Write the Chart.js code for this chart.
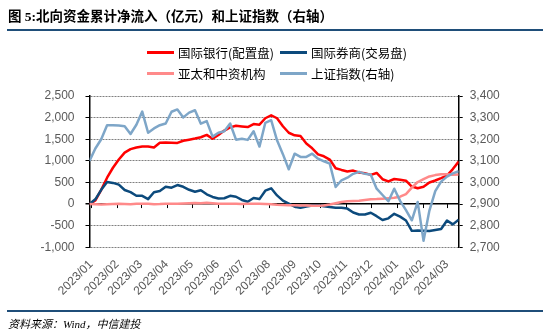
<!DOCTYPE html>
<html>
<head>
<meta charset="utf-8">
<script src="https://cdn.jsdelivr.net/npm/chart.js@4/dist/chart.umd.min.js"></script>
<style>
  html, body { margin: 0; padding: 0; background: #fff; }
  #wrap { position: relative; width: 550px; height: 335px; overflow: hidden; }
  #title {
    position: absolute; left: 8px; top: 5px;
    font: bold 13.5px "Liberation Serif", "Noto Sans CJK SC", serif; color: #000;
    white-space: nowrap;
  }
  .rule { position: absolute; left: 7px; width: 536px; height: 2px; background: #1f4e79; }
  #legend {
    position: absolute; left: 147px; top: 44px;
    display: grid; grid-template-columns: 133px auto; row-gap: 5px;
    font: 12.5px "Noto Sans CJK SC", sans-serif; color: #000;
  }
  #legend .item { display: flex; align-items: center; height: 16px; white-space: nowrap; }
  #legend .swatch { width: 27px; height: 3px; margin-right: 4px; }
  #source {
    position: absolute; left: 8px; top: 315px;
    font: italic 11px "Liberation Serif", "Noto Sans CJK SC", serif; color: #000;
  }
  canvas { position: absolute; left: 0; top: 0; }
</style>
</head>
<body>
<div id="wrap">
  <canvas id="chart" width="550" height="335"></canvas>
  <div id="title">图 5:北向资金累计净流入（亿元）和上证指数（右轴）</div>
  <div class="rule" style="top:29px"></div>
  <div id="legend"></div>
  <div class="rule" style="top:310px"></div>
  <div id="source">资料来源：Wind，中信建投</div>
</div>
<script>
// weekly observation dates (Fridays)
const weeks = [
  '2022-12-30',
  '2023-01-06', '2023-01-13', '2023-01-20', '2023-01-27',
  '2023-02-03', '2023-02-10', '2023-02-17', '2023-02-24',
  '2023-03-03', '2023-03-10', '2023-03-17', '2023-03-24', '2023-03-31',
  '2023-04-07', '2023-04-14', '2023-04-21', '2023-04-28',
  '2023-05-05', '2023-05-12', '2023-05-19', '2023-05-26',
  '2023-06-02', '2023-06-09', '2023-06-16', '2023-06-23', '2023-06-30',
  '2023-07-07', '2023-07-14', '2023-07-21', '2023-07-28',
  '2023-08-04', '2023-08-11', '2023-08-18', '2023-08-25',
  '2023-09-01', '2023-09-08', '2023-09-15', '2023-09-22', '2023-09-29',
  '2023-10-06', '2023-10-13', '2023-10-20', '2023-10-27',
  '2023-11-03', '2023-11-10', '2023-11-17', '2023-11-24',
  '2023-12-01', '2023-12-08', '2023-12-15', '2023-12-22', '2023-12-29',
  '2024-01-05', '2024-01-12', '2024-01-19', '2024-01-26',
  '2024-02-02', '2024-02-09', '2024-02-16', '2024-02-23',
  '2024-03-01', '2024-03-08', '2024-03-15'
];

const monthLabels = ['2023/01', '2023/02', '2023/03', '2023/04', '2023/05', '2023/06', '2023/07',
  '2023/08', '2023/09', '2023/10', '2023/11', '2023/12', '2024/01', '2024/02', '2024/03'];

const seriesNames = ['国际银行(配置盘)', '国际券商(交易盘)', '亚太和中资机构', '上证指数(右轴)'];

// cumulative net inflow, 100m CNY
const intlBanks = [
  0, 85, 330, 610, 840, 1030, 1190, 1270, 1310, 1333,
  1333, 1310, 1420, 1426, 1420, 1415, 1465, 1490, 1515, 1545,
  1600, 1510, 1600, 1700, 1774, 1812, 1795, 1781, 1850, 1837,
  1985, 2055, 1985, 1800, 1650, 1590, 1575, 1400, 1290, 1150,
  1105, 1030, 830, 790, 755, 774, 730, 715, 675, 720,
  575, 525, 580, 565, 540, 405, 365, 400, 500, 545,
  600, 660, 810, 985
];
const intlBrokers = [
  0, 110, 330, 510, 490, 450, 325, 275, 193, 190,
  115, 275, 300, 400, 380, 440, 400, 330, 285, 320,
  225, 165, 130, 135, 190, 170, 95, 55, 140, 115,
  310, 365, 200, 80, 10, -60, -85, -55, -35, -25,
  -50, -70, -86, -86, -105, -195, -240, -242, -200, -280,
  -370, -330, -225, -290, -380, -620, -610, -615, -625, -600,
  -575, -380, -470, -360
];
const apacChinese = [
  0, -5, -10, -5, 0, 5, 0, -5, 5, 10,
  5, -5, 0, 10, 5, 10, 15, 20, 25, 20,
  30, 20, 10, 5, 10, 5, 0, 5, 10, 5,
  0, -5, -15, -20, -25, -30, -35, -35, -40, -40,
  -35, -10, 20, 50, 65, 70, 75, 95, 110, 115,
  125, 135, 145, 170, 230, 380, 510, 575, 640, 670,
  690, 690, 680, 685
];
// Shanghai Composite, weekly close
const sseIndex = [
  3100, 3157, 3200, 3265, 3265, 3263, 3260, 3224, 3267, 3328,
  3230, 3250, 3265, 3273, 3327, 3338, 3301, 3323, 3334, 3272,
  3284, 3212, 3230, 3237, 3273, 3198, 3202, 3197, 3237, 3166,
  3276, 3288, 3195, 3131, 3061, 3133, 3118, 3118, 3133, 3110,
  3098, 3087, 2979, 3010, 3022, 3040, 3049, 3040, 3036, 2971,
  2942, 2913, 2971, 2915, 2872, 2825, 2910, 2730, 2870, 2960,
  3004, 3027, 3042, 3052
];

const leftTicks = { min: -1000, max: 2500, step: 500 };
const rightTicks = { min: 2700, max: 3400, step: 100 };

// x values are days since 2023-01-01
const DAY = 86400000;
const origin = Date.UTC(2023, 0, 1);
function dayOf(str) {
  const p = str.split(/[-\/]/).map(Number);
  return Math.round((Date.UTC(p[0], p[1] - 1, p[2] || 1) - origin) / DAY);
}
const xs = weeks.map(dayOf);
const monthDays = monthLabels.map(dayOf);

function points(values) {
  return values.map((v, i) => ({ x: xs[i], y: v }));
}

const colors = ['#ff0000', '#0c4a7c', '#ff8a8a', '#7ea6c8'];

// small tick marks along the zero line at each month start
const zeroTicks = {
  id: 'zeroTicks',
  beforeDatasetsDraw(chart) {
    const x = chart.scales.x, y = chart.scales.y;
    const y0 = y.getPixelForValue(0);
    const ctx = chart.ctx;
    ctx.save();
    ctx.strokeStyle = '#000';
    ctx.lineWidth = 1;
    ctx.beginPath();
    monthDays.forEach(d => {
      const px = Math.round(x.getPixelForValue(d)) + 0.5;
      ctx.moveTo(px, y0);
      ctx.lineTo(px, y0 + 4);
    });
    ctx.stroke();
    ctx.restore();
  }
};

const tickFont = { family: '"Liberation Sans", Arial, sans-serif', size: 12 };

const chart = new Chart(document.getElementById('chart'), {
  type: 'line',
  data: {
    datasets: [
      { label: seriesNames[0], data: points(intlBanks), yAxisID: 'y', order: 3 },
      { label: seriesNames[1], data: points(intlBrokers), yAxisID: 'y', order: 2 },
      { label: seriesNames[2], data: points(apacChinese), yAxisID: 'y', order: 1 },
      { label: seriesNames[3], data: points(sseIndex), yAxisID: 'y1', order: 0 }
    ].map((ds, i) => Object.assign(ds, {
      borderColor: colors[i],
      backgroundColor: colors[i],
      borderWidth: 2.5,
      pointRadius: 0,
      tension: 0,
      borderJoinStyle: 'round'
    }))
  },
  options: {
    responsive: false,
    animation: false,
    devicePixelRatio: 1,
    layout: { padding: { top: 96, left: 0, right: 0, bottom: 0 } },
    plugins: {
      legend: { display: false },
      tooltip: { enabled: false }
    },
    scales: {
      x: {
        type: 'linear',
        min: xs[0],
        max: xs[xs.length - 1],
        afterBuildTicks: axis => { axis.ticks = monthDays.map(v => ({ value: v })); },
        afterFit: axis => { axis.height = 335 - 247.3; },
        grid: { display: false },
        border: { display: false },
        ticks: {
          autoSkip: false,
          minRotation: 45,
          maxRotation: 45,
          padding: 2,
          color: '#595959',
          font: tickFont,
          callback: (v, i) => monthLabels[i]
        }
      },
      y: {
        position: 'left',
        min: leftTicks.min,
        max: leftTicks.max,
        afterFit: axis => { axis.width = 89.5; },
        ticks: {
          stepSize: leftTicks.step,
          padding: 11,
          color: '#595959',
          font: tickFont,
          callback: v => v.toLocaleString('en-US')
        },
        grid: {
          color: c => (c.tick && c.tick.value === 0 ? '#000' : '#808080'),
          lineWidth: c => (c.tick && c.tick.value === 0 ? 1.5 : 1),
          tickColor: '#000',
          tickLength: 4
        },
        border: {
          color: '#000',
          width: 1.5,
          dash: c => (c.tick && c.tick.value === 0 ? [] : [2, 1])
        }
      },
      y1: {
        position: 'right',
        min: rightTicks.min,
        max: rightTicks.max,
        afterFit: axis => { axis.width = 550 - 458.7; },
        ticks: {
          stepSize: rightTicks.step,
          padding: 7,
          color: '#595959',
          font: tickFont,
          callback: v => v.toLocaleString('en-US')
        },
        grid: {
          drawOnChartArea: false,
          tickColor: '#000',
          tickLength: 4
        },
        border: { color: '#000', width: 1.5 }
      }
    }
  },
  plugins: [zeroTicks]
});

// two-column legend built from the datasets
const legend = document.getElementById('legend');
chart.data.datasets.forEach(ds => {
  const item = document.createElement('div');
  item.className = 'item';
  const sw = document.createElement('span');
  sw.className = 'swatch';
  sw.style.background = ds.borderColor;
  const txt = document.createElement('span');
  txt.textContent = ds.label;
  item.appendChild(sw);
  item.appendChild(txt);
  legend.appendChild(item);
});
</script>
</body>
</html>
